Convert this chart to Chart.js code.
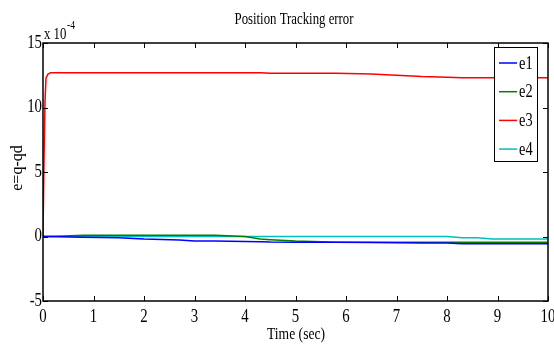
<!DOCTYPE html>
<html>
<head>
<meta charset="utf-8">
<script src="https://cdn.jsdelivr.net/npm/chart.js@4/dist/chart.umd.min.js"></script>
<style>
  html, body { margin: 0; padding: 0; background: #fff; }
  #errChart { display: block; }
</style>
</head>
<body>
<canvas id="errChart" width="554" height="345"></canvas>
<script>
// Time samples (sec) and tracking errors (x 1e-4)
const timeSec = [0, 0.02, 0.04, 0.06, 0.1, 0.15, 0.8, 1.5, 2.0, 2.7, 3.0, 3.4, 4.0, 4.3, 4.5, 5.0, 5.5, 5.8, 6.5, 7.0, 7.5, 8.0, 8.3, 8.6, 8.9, 9.5, 10];
const e1 = [0, 0, 0, 0, 0, 0, -0.05, -0.1, -0.2, -0.27, -0.35, -0.35, -0.38, -0.4, -0.43, -0.45, -0.45, -0.45, -0.47, -0.48, -0.5, -0.5, -0.56, -0.56, -0.56, -0.56, -0.56];
const e2 = [0, 0, 0, 0, 0, 0, 0.1, 0.1, 0.1, 0.1, 0.1, 0.1, 0, -0.2, -0.25, -0.35, -0.4, -0.45, -0.45, -0.45, -0.45, -0.45, -0.45, -0.45, -0.45, -0.45, -0.45];
const e3 = [0, 6, 10.5, 12.3, 12.6, 12.7, 12.7, 12.7, 12.7, 12.7, 12.7, 12.7, 12.7, 12.7, 12.65, 12.65, 12.65, 12.65, 12.6, 12.5, 12.4, 12.35, 12.3, 12.3, 12.3, 12.3, 12.3];
const e4 = [0, 0, 0, 0, 0, 0, 0, 0, 0, 0, 0, 0, 0, 0, 0, 0, 0, 0, 0, 0, 0, 0, -0.1, -0.1, -0.2, -0.2, -0.2];
const seriesNames = ["e1", "e2", "e3", "e4"];
const seriesColors = ["#0000ff", "#008000", "#ff0000", "#00bfbf"];
const xTicks = [0, 1, 2, 3, 4, 5, 6, 7, 8, 9, 10];
const yTicks = [-5, 0, 5, 10, 15];

const FONT = "'Liberation Serif', 'Times New Roman', serif";

function toPoints(vals) {
  return vals.map((v, i) => ({ x: timeSec[i], y: v }));
}

// narrow serif text, squeezed horizontally
function squeezed(ctx, text, x, y, size, align, sx) {
  ctx.save();
  ctx.translate(x, y);
  ctx.scale(sx || 0.8, 1);
  ctx.font = size + "px " + FONT;
  ctx.textAlign = align;
  ctx.fillText(text, 0, 0);
  ctx.restore();
}

// Axes box, inward ticks on all four sides, labels, titles and legend
const matlabFrame = {
  id: "matlabFrame",
  afterDraw(chart) {
    const ctx = chart.ctx;
    const a = chart.chartArea;
    const xs = chart.scales.x;
    const ys = chart.scales.y;
    const tick = 5;
    ctx.save();
    ctx.strokeStyle = "#000";
    ctx.lineWidth = 1.5;
    ctx.strokeRect(a.left, a.top, a.right - a.left, a.bottom - a.top);

    ctx.lineWidth = 1;
    ctx.beginPath();
    xTicks.forEach((v) => {
      const px = Math.round(xs.getPixelForValue(v)) + 0.5;
      ctx.moveTo(px, a.bottom); ctx.lineTo(px, a.bottom - tick);
      ctx.moveTo(px, a.top); ctx.lineTo(px, a.top + tick);
    });
    yTicks.forEach((v) => {
      const py = Math.round(ys.getPixelForValue(v)) + 0.5;
      ctx.moveTo(a.left, py); ctx.lineTo(a.left + tick, py);
      ctx.moveTo(a.right, py); ctx.lineTo(a.right - tick, py);
    });
    ctx.stroke();

    // tick labels
    ctx.fillStyle = "#000";
    ctx.textBaseline = "middle";
    xTicks.forEach((v) => {
      squeezed(ctx, String(v), xs.getPixelForValue(v), 317, 19, "center", 0.78);
    });
    yTicks.forEach((v) => {
      squeezed(ctx, String(v), a.left - 1, ys.getPixelForValue(v), 19, "right", 0.78);
    });

    // exponent note
    ctx.textBaseline = "alphabetic";
    squeezed(ctx, "x 10", 44, 39, 16, "left", 0.8);
    squeezed(ctx, "-4", 67, 29, 12, "left", 0.8);

    // title and axis labels
    ctx.textBaseline = "middle";
    squeezed(ctx, "Position Tracking error", 294, 20, 16, "center", 0.8);
    squeezed(ctx, "Time (sec)", 296, 335, 16, "center", 0.85);
    ctx.save();
    ctx.translate(18, 168);
    ctx.rotate(-Math.PI / 2);
    ctx.font = "16px " + FONT;
    ctx.textAlign = "center";
    ctx.fillText("e=q-qd", 0, 0);
    ctx.restore();

    // legend box
    const lx = 494, ly = 47, lw = 43, lh = 114;
    ctx.fillStyle = "#fff";
    ctx.fillRect(lx, ly, lw, lh);
    ctx.lineWidth = 1;
    ctx.strokeStyle = "#000";
    ctx.strokeRect(lx + 0.5, ly + 0.5, lw, lh);
    chart.data.datasets.forEach((ds, i) => {
      const y = 63 + i * 28.7;
      ctx.strokeStyle = ds.borderColor;
      ctx.lineWidth = 1.5;
      ctx.beginPath();
      ctx.moveTo(499, y);
      ctx.lineTo(517, y);
      ctx.stroke();
      ctx.fillStyle = "#000";
      squeezed(ctx, ds.label, 519, y + 1, 18, "left", 0.8);
    });
    ctx.restore();
  }
};

new Chart(document.getElementById("errChart"), {
  type: "line",
  data: {
    datasets: seriesNames.map((name, i) => ({
      label: name,
      data: toPoints([e1, e2, e3, e4][i]),
      borderColor: seriesColors[i],
      borderWidth: 1.5,
      pointRadius: 0,
      tension: 0,
      fill: false
    }))
  },
  options: {
    responsive: false,
    animation: false,
    layout: { padding: { top: 43, right: 6, left: 0, bottom: 0 } },
    plugins: { legend: { display: false }, tooltip: { enabled: false } },
    scales: {
      x: {
        type: "linear",
        min: 0,
        max: 10,
        grid: { display: false },
        border: { display: false },
        ticks: { display: false, stepSize: 1 },
        afterFit(s) { s.height = 44; s.paddingLeft = 0; s.paddingRight = 0; }
      },
      y: {
        min: -5,
        max: 15,
        grid: { display: false },
        border: { display: false },
        ticks: { display: false, stepSize: 5 },
        afterFit(s) { s.width = 43; s.paddingTop = 0; s.paddingBottom = 0; }
      }
    }
  },
  plugins: [matlabFrame]
});
</script>
</body>
</html>
